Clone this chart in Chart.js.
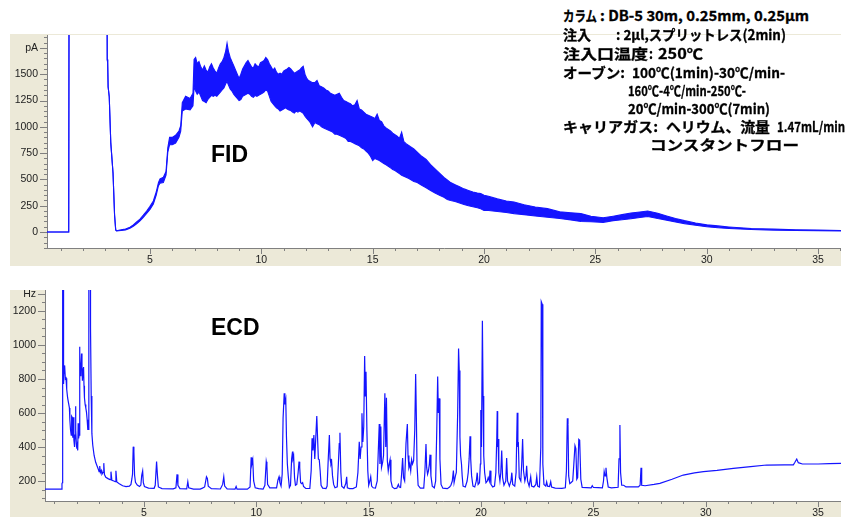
<!DOCTYPE html>
<html>
<head>
<meta charset="utf-8">
<script src="https://cdn.jsdelivr.net/npm/chart.js@4/dist/chart.umd.min.js"></script>
<style>
  html,body{margin:0;padding:0;background:#fff;width:853px;height:519px;overflow:hidden;position:relative;}
  canvas{position:absolute;background:#ECE9D8;}
  #fid{left:10px;top:34px;}
  #ecd{left:10px;top:290px;}
  .tag{position:absolute;font-family:"Liberation Sans",Arial,sans-serif;font-weight:bold;font-size:23px;color:#000;line-height:1;}
  .note{position:absolute;white-space:nowrap;font-family:"Noto Sans CJK JP",sans-serif;font-weight:700;font-size:14px;line-height:18px;color:#000;transform-origin:0 50%;-webkit-text-stroke:0.3px #000;}
</style>
</head>
<body>
<canvas id="fid" width="831" height="232"></canvas>
<canvas id="ecd" width="831" height="227"></canvas>
<div class="tag" style="left:211px;top:143px;">FID</div>
<div class="tag" style="left:211px;top:316px;">ECD</div>
<div id="notes"></div>
<script>
// ---------------- DATA ----------------
// FID trace: [time (min), lower edge of noise band (pA), upper edge (pA)]
const fidBand = [
[0.375,0,0],[1.35,0,0],[1.37,3000,3000],[3.06,3000,3000],[3.08,1640,1640],[3.1,1610,1610],[3.12,1380,1380],[3.17,1286,1286],
[3.24,845,845],[3.34,560,560],[3.41,160,160],[3.46,20,20],[3.5,10,12],[3.7,15,20],[3.9,20,28],[4.1,35,45],[4.25,55,67],
[4.4,78,95],[4.55,105,122],[4.7,140,160],[4.85,178,200],[5.0,215,245],[5.15,265,295],[5.28,350,380],[5.38,440,470],
[5.45,465,505],[5.6,470,520],[5.72,540,575],[5.8,760,800],[5.88,830,900],[6.0,830,900],[6.15,845,920],[6.3,900,960],
[6.38,960,1010],[6.45,1150,1230],[6.6,1170,1290],[6.8,1160,1270],[6.93,1200,1320],
[6.98,1380,1640],[7.05,1340,1660],[7.12,1310,1600],[7.2,1330,1620],[7.28,1290,1570],[7.36,1250,1540],[7.44,1240,1580],
[7.52,1230,1540],[7.6,1260,1520],[7.68,1280,1570],[7.76,1300,1600],[7.84,1290,1560],[7.92,1300,1530],[8.0,1290,1510],
[8.08,1310,1560],[8.16,1330,1600],[8.24,1350,1620],[8.32,1370,1660],[8.4,1410,1720],[8.46,1430,1795],[8.52,1400,1720],
[8.6,1360,1660],[8.68,1340,1620],[8.76,1310,1580],[8.84,1290,1540],[8.92,1270,1500],[9.0,1250,1460],[9.08,1260,1500],
[9.16,1290,1550],[9.24,1300,1580],[9.32,1310,1610],[9.4,1320,1630],[9.48,1310,1600],[9.56,1290,1570],[9.64,1280,1560],
[9.72,1300,1600],[9.8,1290,1580],[9.88,1300,1570],[9.96,1310,1610],[10.04,1320,1620],[10.12,1330,1630],[10.2,1350,1660],
[10.28,1340,1640],[10.36,1290,1600],[10.44,1240,1570],[10.52,1220,1540],[10.6,1200,1560],[10.68,1180,1520],[10.76,1170,1500],
[10.84,1150,1510],[10.92,1160,1500],[11.0,1170,1530],[11.08,1180,1540],[11.16,1170,1550],[11.24,1160,1565],[11.32,1155,1550],
[11.4,1140,1530],[11.48,1130,1510],[11.56,1150,1520],[11.64,1140,1530],[11.72,1150,1540],[11.8,1140,1560],[11.88,1130,1575],
[11.96,1100,1500],[12.04,1080,1460],[12.12,1060,1440],[12.2,1040,1430],[12.3,1000,1420],[12.4,1040,1420],[12.5,1030,1440],
[12.6,1020,1390],[12.7,1000,1380],[12.8,990,1370],[12.9,980,1350],[13.0,970,1340],[13.1,960,1320],[13.2,950,1310],
[13.3,930,1300],[13.4,930,1310],[13.5,920,1320],[13.6,910,1280],[13.7,900,1250],[13.8,890,1240],[13.9,860,1230],
[14.0,860,1220],[14.1,850,1200],[14.2,840,1210],[14.3,830,1250],[14.4,820,1170],[14.5,800,1160],[14.6,790,1140],
[14.7,770,1120],[14.8,750,1110],[14.9,720,1100],[15.0,680,1090],[15.1,700,1080],[15.2,690,1120],[15.3,680,1060],
[15.4,665,1050],[15.5,650,1010],[15.6,640,990],[15.7,625,975],[15.8,610,960],[15.9,595,940],[16.0,585,925],[16.1,570,910],
[16.2,555,890],[16.3,540,950],[16.4,530,860],[16.5,520,840],[16.6,510,825],[16.7,500,810],[16.85,480,790],[17.0,470,760],
[17.2,445,720],[17.4,420,690],[17.6,395,640],[17.8,370,600],[18.0,350,560],[18.2,330,520],[18.35,310,495],[18.5,300,470],
[18.7,290,450],[18.9,275,430],[19.1,262,410],[19.3,250,395],[19.5,240,380],[19.7,230,370],[19.85,222,365],[20.0,205,350],
[20.2,205,340],[20.6,195,315],[21.0,185,295],[21.35,175,285],[21.8,165,260],[22.3,152,238],
[22.85,140,222],[23.4,128,192],[23.9,115,182],[24.35,100,175],[24.8,98,150],[25.35,92,135],[25.8,108,150],[26.2,116,165],
[26.6,126,180],[27.0,138,190],[27.35,148,200],[27.8,128,178],[28.2,113,152],[28.6,95,128],[29.0,80,108],[29.5,64,86],
[30.0,50,68],[30.5,40,58],[31.0,33,48],[31.5,28,40],[32.0,24,34],[33.0,18,27],[34.0,15,22],[35.0,12,18],[36.03,10,15]
];

// ECD trace: [time (min), signal (Hz)]
const ecdTrace = [
[0.59,152],[1.33,152],[1.35,185],[1.37,190],[1.38,3000],[1.41,3000],[1.42,770],[1.44,880],[1.46,830],[1.48,875],[1.5,800],
[1.53,805],[1.56,740],[1.6,690],[1.64,660],[1.68,630],[1.7,560],[1.73,500],[1.76,470],[1.78,580],[1.8,575],[1.83,455],
[1.86,575],[1.88,440],[1.91,400],[1.93,470],[1.95,640],[1.97,500],[1.99,420],[2.01,390],[2.03,410],[2.05,380],[2.07,540],
[2.09,450],[2.11,470],[2.13,990],[2.15,900],[2.17,820],[2.19,880],[2.22,950],[2.24,870],[2.26,790],[2.29,860],[2.31,870],
[2.33,760],[2.35,690],[2.38,650],[2.41,630],[2.44,605],[2.47,560],[2.5,500],[2.52,520],[2.54,500],[2.55,3000],[2.6,3000],
[2.62,1100],[2.65,700],[2.68,480],[2.72,410],[2.78,350],[2.85,310],[2.92,285],[2.97,268],[3.0,255],[3.03,288],[3.06,250],
[3.1,262],[3.13,240],[3.18,250],[3.21,305],[3.24,238],[3.3,222],[3.4,214],[3.49,208],[3.53,255],[3.57,204],[3.66,200],
[3.72,196],[3.75,260],[3.79,194],[3.9,184],[4.05,172],[4.2,167],[4.35,170],[4.42,180],[4.46,212],[4.49,240],[4.52,402],
[4.55,372],[4.58,235],[4.62,192],[4.7,176],[4.8,168],[4.86,176],[4.9,235],[4.94,259],[4.97,190],[5.02,168],[5.2,158],
[5.45,157],[5.5,175],[5.56,314],[5.6,230],[5.64,165],[5.8,155],[6.3,154],[6.42,160],[6.47,239],[6.51,175],[6.6,155],
[6.9,154],[6.95,196],[6.99,160],[7.2,152],[7.5,152],[7.6,158],[7.7,165],[7.78,225],[7.82,215],[7.86,170],[8.0,155],
[8.4,153],[8.5,180],[8.55,225],[8.59,170],[8.7,153],[9.05,152],[9.1,168],[9.14,152],[9.6,152],[9.72,165],[9.77,339],
[9.8,300],[9.84,325],[9.88,200],[9.95,160],[10.1,155],[10.3,152],[10.38,175],[10.44,314],[10.47,290],[10.5,180],[10.6,160],
[10.9,160],[10.96,205],[11.01,225],[11.05,190],[11.1,170],[11.15,240],[11.19,570],[11.24,716],[11.27,650],[11.31,678],
[11.34,460],[11.38,300],[11.42,230],[11.47,162],[11.52,175],[11.57,330],[11.61,373],[11.63,330],[11.66,345],[11.7,220],
[11.74,175],[11.8,180],[11.86,250],[11.9,314],[11.93,280],[11.97,190],[12.02,184],[12.06,190],[12.1,168],[12.2,156],
[12.38,156],[12.44,260],[12.48,451],[12.52,380],[12.56,470],[12.6,330],[12.65,470],[12.69,582],[12.72,470],[12.76,330],
[12.8,325],[12.84,260],[12.88,175],[12.95,158],[13.1,156],[13.15,170],[13.2,330],[13.25,470],[13.28,330],[13.32,300],
[13.35,314],[13.39,230],[13.44,180],[13.5,160],[13.6,166],[13.65,300],[13.69,420],[13.72,484],[13.76,250],[13.8,170],
[13.9,158],[13.98,185],[14.02,225],[14.05,160],[14.15,155],[14.3,155],[14.45,165],[14.52,250],[14.58,431],[14.62,330],
[14.66,400],[14.7,598],[14.74,430],[14.78,520],[14.82,935],[14.85,700],[14.88,843],[14.92,500],[14.96,260],[15.0,175],
[15.05,200],[15.09,225],[15.13,170],[15.2,160],[15.3,158],[15.38,200],[15.42,350],[15.47,535],[15.5,300],[15.54,520],
[15.57,280],[15.62,310],[15.66,350],[15.72,716],[15.76,400],[15.79,690],[15.83,320],[15.87,260],[15.91,300],[15.95,325],
[15.99,200],[16.05,165],[16.15,155],[16.25,158],[16.32,180],[16.36,165],[16.42,162],[16.47,250],[16.51,335],[16.55,220],
[16.6,200],[16.66,420],[16.72,535],[16.75,350],[16.79,280],[16.83,300],[16.87,260],[16.91,325],[16.95,300],[17.0,320],
[17.05,500],[17.09,829],[17.12,588],[17.15,300],[17.2,175],[17.3,158],[17.45,158],[17.5,250],[17.55,418],[17.58,280],
[17.62,240],[17.66,260],[17.7,300],[17.73,355],[17.77,230],[17.83,170],[17.92,160],[17.98,200],[18.03,500],[18.07,814],
[18.1,600],[18.14,686],[18.17,330],[18.22,180],[18.3,158],[18.5,155],[18.6,165],[18.66,175],[18.72,200],[18.77,261],
[18.8,190],[18.86,230],[18.9,250],[18.96,600],[19.0,980],[19.03,850],[19.06,460],[19.09,350],[19.13,300],[19.16,230],
[19.2,170],[19.3,165],[19.38,200],[19.43,250],[19.47,330],[19.51,463],[19.54,330],[19.58,230],[19.64,170],[19.72,165],
[19.79,200],[19.83,249],[19.87,180],[19.93,190],[19.97,300],[19.99,618],[20.02,400],[20.06,1143],[20.09,700],[20.12,350],
[20.16,250],[20.22,190],[20.28,200],[20.32,220],[20.37,200],[20.4,261],[20.44,180],[20.52,165],[20.6,170],[20.66,250],
[20.7,450],[20.72,611],[20.74,400],[20.76,447],[20.79,250],[20.84,200],[20.88,250],[20.92,380],[20.96,220],[21.02,175],
[21.1,200],[21.14,335],[21.18,200],[21.26,170],[21.33,200],[21.37,249],[21.41,180],[21.5,170],[21.56,250],[21.61,602],
[21.64,400],[21.66,430],[21.7,220],[21.77,200],[21.81,300],[21.85,447],[21.89,260],[21.95,200],[22.0,230],[22.03,290],
[22.07,200],[22.14,170],[22.21,225],[22.25,170],[22.35,165],[22.44,180],[22.48,225],[22.52,170],[22.6,165],[22.66,400],
[22.68,1255],[22.72,1240],[22.75,300],[22.8,180],[22.88,170],[22.92,195],[22.96,170],[23.05,168],[23.1,196],[23.14,165],
[23.3,158],[23.6,157],[23.75,160],[23.8,260],[23.84,569],[23.87,530],[23.9,230],[23.95,185],[24.0,190],[24.08,200],
[24.13,300],[24.18,408],[24.22,390],[24.26,210],[24.3,220],[24.35,445],[24.39,440],[24.44,210],[24.5,162],[24.9,160],
[24.95,172],[25.0,162],[25.4,160],[25.45,200],[25.48,255],[25.52,230],[25.56,278],[25.6,220],[25.66,165],[25.8,160],
[26.1,163],[26.14,330],[26.18,529],[26.21,250],[26.26,175],[26.35,175],[26.45,165],[27.0,165],[27.08,175],[27.12,278],
[27.15,175],[27.3,172],[27.7,180],[27.96,186],[28.5,210],[29.0,235],[29.5,248],[29.9,255],[30.5,262],[31.23,274],
[32.0,285],[32.71,294],[33.5,295],[33.9,295],[33.97,310],[34.05,329],[34.12,308],[34.3,300],[35.0,300],[35.5,302],[36.02,304]
];

// Axis ranges and tick labelling
const fidRange = {xMin:0.375, xMax:36.03, yMin:-152, yMax:1873};
const ecdRange = {xMin:0.594, xMax:36.02, yMin:82.4, yMax:1323.5};
const fidUnit = 'pA', ecdUnit = 'Hz';
const fidUnitAt = 1750, ecdUnitAt = 1300;
const fidLabelEvery = 250, ecdLabelEvery = 200, timeLabelEvery = 5;

// Annotation text (Japanese conditions block)
const noteSegs = [
  {t:'カラム', l:563, r:597, y:15},
  {t:': DB-5 30m, 0.25mm, 0.25μm', l:600, r:809, y:15},
  {t:'注入', l:563, r:591, y:34},
  {t:': 2μl,スプリットレス(2min)', l:616, r:786, y:34},
  {t:'注入口温度', l:563, r:648, y:53},
  {t:':', l:649, r:653, y:53},
  {t:'250℃', l:658, r:703, y:53},
  {t:'オーブン:', l:563, r:625, y:72},
  {t:'100℃(1min)-30℃/min-', l:632, r:785, y:72},
  {t:'160℃-4℃/min-250℃-', l:628, r:746, y:90},
  {t:'20℃/min-300℃(7min)', l:628, r:770, y:108},
  {t:'キャリアガス:', l:563, r:658, y:126},
  {t:'ヘリウム、流量', l:666, r:770, y:126},
  {t:'1.47mL/min', l:777, r:845, y:126},
  {t:'コンスタントフロー', l:650, r:799, y:144}
];

// ---------------- DRAWING ----------------
const BLUE = '#1414ff';
const AXIS = '#808080';
const tickFont = {family:'"Liberation Sans", Arial, sans-serif', size:10.5};

const frame = {
  id:'frame',
  beforeDraw(chart){
    const {ctx, chartArea:a} = chart;
    ctx.save();
    ctx.fillStyle = '#ffffff';
    ctx.fillRect(a.left, a.top, a.right - a.left, a.bottom - a.top);
    ctx.restore();
  },
  afterDraw(chart){
    const ctx = chart.ctx, xs = chart.scales.x, ys = chart.scales.y;
    ctx.save();
    ctx.strokeStyle = AXIS; ctx.lineWidth = 1;
    xs.ticks.forEach(t => {
      const px = Math.round(xs.getPixelForValue(t.value)) + 0.5;
      const L = (t.value % timeLabelEvery === 0) ? 6 : 3;
      ctx.beginPath(); ctx.moveTo(px, xs.top); ctx.lineTo(px, xs.top + L); ctx.stroke();
    });
    ys.ticks.forEach(t => {
      const py = Math.round(ys.getPixelForValue(t.value)) + 0.5;
      const L = (t.label !== '') ? 7 : 3;
      ctx.beginPath(); ctx.moveTo(ys.right, py); ctx.lineTo(ys.right - L, py); ctx.stroke();
    });
    ctx.restore();
  }
};

function baseScales(r, yStep, yLabel, yWidth, xHeight){
  return {
    x:{type:'linear', min:r.xMin, max:r.xMax,
      grid:{display:true, drawOnChartArea:false, drawTicks:false},
      border:{display:true, color:AXIS, width:1},
      ticks:{stepSize:1, autoSkip:false, maxRotation:0, includeBounds:false, padding:6, color:'#222', font:tickFont,
        callback:v => (v % timeLabelEvery === 0 ? String(v) : '')},
      afterFit:s => { s.height = xHeight; s.paddingLeft = 0; s.paddingRight = 0; s.paddingTop = 0; s.paddingBottom = 0; }
    },
    y:{type:'linear', min:r.yMin, max:r.yMax,
      grid:{display:true, drawOnChartArea:false, drawTicks:false},
      border:{display:true, color:AXIS, width:1},
      ticks:{stepSize:yStep, autoSkip:false, includeBounds:false, padding:9, color:'#222', font:tickFont,
        callback:yLabel},
      afterFit:s => { s.width = yWidth; s.paddingTop = 0; s.paddingBottom = 0; s.paddingLeft = 0; s.paddingRight = 0; }
    }
  };
}

const commonOpts = {
  animation:false, responsive:false, maintainAspectRatio:false,
  plugins:{legend:{display:false}, tooltip:{enabled:false}},
  elements:{point:{radius:0}, line:{tension:0}}
};

new Chart(document.getElementById('fid'), {
  type:'line',
  data:{datasets:[
    {data:fidBand.map(p => ({x:p[0], y:p[1]})), borderColor:BLUE, borderWidth:1.1, fill:false},
    {data:fidBand.map(p => ({x:p[0], y:p[2]})), borderColor:BLUE, borderWidth:1.1, fill:'-1', backgroundColor:BLUE}
  ]},
  options:Object.assign({}, commonOpts, {
    layout:{padding:{top:1, left:0, right:0, bottom:0}},
    scales:baseScales(fidRange, 50,
      v => (v === fidUnitAt ? fidUnit : (v >= 0 && v % fidLabelEvery === 0 && v < fidUnitAt ? String(v) : '')), 37, 18)
  }),
  plugins:[frame]
});

new Chart(document.getElementById('ecd'), {
  type:'line',
  data:{datasets:[
    {data:ecdTrace.map(p => ({x:p[0], y:p[1]})), borderColor:BLUE, borderWidth:1.2, fill:false}
  ]},
  options:Object.assign({}, commonOpts, {
    layout:{padding:{top:0, left:0, right:0, bottom:0}},
    scales:baseScales(ecdRange, 50,
      v => (v === ecdUnitAt ? ecdUnit : (v % ecdLabelEvery === 0 && v < ecdUnitAt ? String(v) : '')), 35, 16)
  }),
  plugins:[frame]
});

// notes block
const notes = document.getElementById('notes');
noteSegs.forEach(s => {
  const el = document.createElement('span');
  el.className = 'note';
  el.textContent = s.t;
  el.style.left = s.l + 'px';
  el.style.top = (s.y - 9) + 'px';
  notes.appendChild(el);
  const w = el.getBoundingClientRect().width;
  if (w > 0) el.style.transform = 'scaleX(' + ((s.r - s.l) / w).toFixed(3) + ')';
});
</script>
</body>
</html>
